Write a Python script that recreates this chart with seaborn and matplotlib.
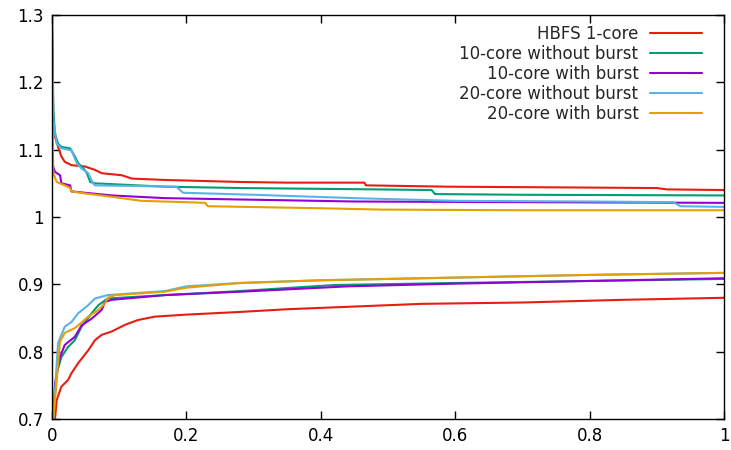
import numpy as np
import pandas as pd
import matplotlib
matplotlib.use('Agg')
import matplotlib.pyplot as plt
import seaborn as sns

sns.set_style('white')
plt.rcParams['font.family'] = ['DejaVu Sans']

labels = ['HBFS 1-core', '10-core without burst', '10-core with burst',
          '20-core without burst', '20-core with burst']
colors = ['#e51e10', '#009e73', '#9400d3', '#56b4e9', '#e69f00']

# upper bound curves (decreasing)
red_up_x = [0, 0.002, 0.0045, 0.009, 0.014, 0.019, 0.029, 0.049, 0.064, 0.074, 0.104, 0.119, 0.168, 0.28, 0.35, 0.465, 0.467, 0.59, 0.75, 0.90, 0.915, 1.0]
red_up_y = [1.3, 1.139, 1.119, 1.104, 1.090, 1.082, 1.077, 1.075, 1.070, 1.065, 1.062, 1.057, 1.055, 1.052, 1.051, 1.051, 1.047, 1.045, 1.044, 1.043, 1.041, 1.040]
green_up_x = [0, 0.002, 0.0045, 0.009, 0.014, 0.027, 0.034, 0.039, 0.047, 0.052, 0.057, 0.064, 0.168, 0.28, 0.48, 0.565, 0.57, 0.7, 1.0]
green_up_y = [1.3, 1.159, 1.124, 1.109, 1.104, 1.102, 1.090, 1.080, 1.072, 1.065, 1.052, 1.050, 1.045, 1.043, 1.041, 1.040, 1.034, 1.033, 1.032]
purple_up_x = [0, 0.0045, 0.012, 0.014, 0.027, 0.029, 0.049, 0.089, 0.168, 0.28, 0.45, 0.7, 1.0]
purple_up_y = [1.08, 1.067, 1.062, 1.050, 1.047, 1.038, 1.036, 1.032, 1.028, 1.026, 1.023, 1.022, 1.021]
blue_up_x = [0, 0.002, 0.007, 0.014, 0.029, 0.037, 0.044, 0.054, 0.061, 0.064, 0.185, 0.195, 0.3, 0.45, 0.6, 0.8, 0.925, 0.935, 1.0]
blue_up_y = [1.3, 1.144, 1.109, 1.102, 1.099, 1.080, 1.072, 1.065, 1.050, 1.047, 1.045, 1.036, 1.033, 1.028, 1.024, 1.023, 1.022, 1.016, 1.015]
orange_up_x = [0, 0.002, 0.007, 0.019, 0.027, 0.029, 0.049, 0.089, 0.133, 0.2, 0.228, 0.232, 0.4, 0.49, 0.7, 1.0]
orange_up_y = [1.18, 1.065, 1.052, 1.047, 1.043, 1.038, 1.035, 1.030, 1.024, 1.022, 1.021, 1.016, 1.013, 1.011, 1.010, 1.010]

# lower bound curves (increasing)
red_lo_x = [0.0045, 0.007, 0.014, 0.024, 0.029, 0.039, 0.054, 0.064, 0.074, 0.089, 0.109, 0.128, 0.153, 0.2, 0.28, 0.35, 0.45, 0.55, 0.7, 0.85, 1.0]
red_lo_y = [0.70, 0.728, 0.748, 0.758, 0.768, 0.783, 0.802, 0.817, 0.825, 0.830, 0.840, 0.847, 0.852, 0.855, 0.859, 0.863, 0.867, 0.871, 0.873, 0.877, 0.880]
green_lo_x = [0.002, 0.007, 0.014, 0.024, 0.034, 0.044, 0.059, 0.069, 0.083, 0.168, 0.28, 0.42, 0.6, 0.8, 1.0]
green_lo_y = [0.70, 0.768, 0.792, 0.807, 0.817, 0.837, 0.857, 0.869, 0.879, 0.884, 0.890, 0.899, 0.902, 0.905, 0.908]
purple_lo_x = [0.002, 0.0045, 0.012, 0.019, 0.034, 0.044, 0.059, 0.074, 0.079, 0.089, 0.168, 0.28, 0.44, 0.6, 0.8, 1.0]
purple_lo_y = [0.70, 0.753, 0.792, 0.810, 0.822, 0.839, 0.849, 0.862, 0.874, 0.877, 0.884, 0.889, 0.897, 0.901, 0.905, 0.909]
blue_lo_x = [0.002, 0.009, 0.019, 0.029, 0.039, 0.054, 0.064, 0.083, 0.168, 0.2, 0.28, 0.4, 0.6, 0.8, 1.0]
blue_lo_y = [0.70, 0.813, 0.837, 0.844, 0.857, 0.869, 0.879, 0.884, 0.890, 0.897, 0.902, 0.906, 0.910, 0.914, 0.917]
orange_lo_x = [0.002, 0.012, 0.019, 0.034, 0.039, 0.054, 0.069, 0.079, 0.083, 0.094, 0.168, 0.2, 0.28, 0.4, 0.6, 0.8, 1.0]
orange_lo_y = [0.70, 0.815, 0.828, 0.835, 0.839, 0.852, 0.862, 0.872, 0.880, 0.884, 0.889, 0.895, 0.902, 0.906, 0.910, 0.914, 0.917]

xticks = [0, 0.2, 0.4, 0.6, 0.8, 1]
xticklabels = ['0', '0.2', '0.4', '0.6', '0.8', '1']
yticks = [0.7, 0.8, 0.9, 1.0, 1.1, 1.2, 1.3]
yticklabels = ['0.7', '0.8', '0.9', '1', '1.1', '1.2', '1.3']

curves = [
    (red_up_x, red_up_y, red_lo_x, red_lo_y),
    (green_up_x, green_up_y, green_lo_x, green_lo_y),
    (purple_up_x, purple_up_y, purple_lo_x, purple_lo_y),
    (blue_up_x, blue_up_y, blue_lo_x, blue_lo_y),
    (orange_up_x, orange_up_y, orange_lo_x, orange_lo_y),
]

fig = plt.figure(figsize=(7.31, 4.5), dpi=100)
ax = fig.add_axes([0.0711, 0.0689, 0.9193, 0.8978])

for lab, col, (ux, uy, lx, ly) in zip(labels, colors, curves):
    sns.lineplot(x=ux, y=uy, ax=ax, color=col, lw=1.5, label=lab,
                 estimator=None, sort=False)
    sns.lineplot(x=lx, y=ly, ax=ax, color=col, lw=1.5,
                 estimator=None, sort=False)

ax.set_xlim(0, 1)
ax.set_ylim(0.7, 1.3)
ax.set_xticks(xticks)
ax.set_xticklabels(xticklabels)
ax.set_yticks(yticks)
ax.set_yticklabels(yticklabels)
ax.tick_params(direction='in', length=6, width=1, labelsize=12, top=True, right=True,
               bottom=True, left=True, pad=6, colors='black')
for sp in ax.spines.values():
    sp.set_color('black')
    sp.set_linewidth(1)
ax.set_xlabel('')
ax.set_ylabel('')

ax.legend(loc='upper right', bbox_to_anchor=(0.967, 0.975), frameon=False,
          markerfirst=False, fontsize=12, handlelength=3.1, handletextpad=0.7,
          labelspacing=0.12, borderpad=0, borderaxespad=0)

fig.savefig('out.png', dpi=100)
